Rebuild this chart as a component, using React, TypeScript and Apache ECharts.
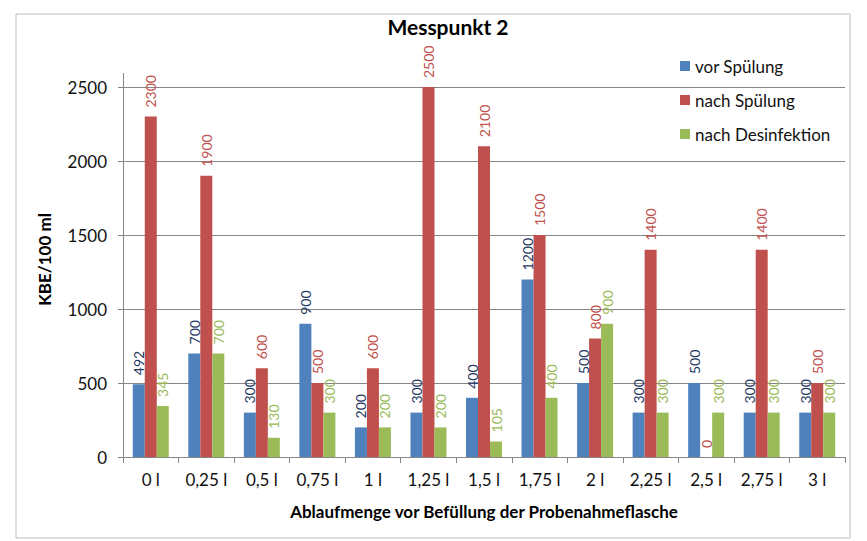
import React, { useEffect, useRef } from "react";
import * as echarts from "echarts";

const categories = ["0 l", "0,25 l", "0,5 l", "0,75 l", "1 l", "1,25 l", "1,5 l", "1,75 l", "2 l", "2,25 l", "2,5 l", "2,75 l", "3 l"];
const vorSpuelung = [492, 700, 300, 900, 200, 300, 400, 1200, 500, 300, 500, 300, 300];
const nachSpuelung = [2300, 1900, 600, 500, 600, 2500, 2100, 1500, 800, 1400, 0, 1400, 500];
const nachDesinfektion = [345, 700, 130, 300, 200, 200, 105, 400, 900, 300, 300, 300, 300];
const seriesNames = ["vor Spülung", "nach Spülung", "nach Desinfektion"];
const yTicks = { min: 0, max: 2500, interval: 500 };

const FONT = "Lato, 'Noto Sans', sans-serif";

export default function App() {
  const ref = useRef<HTMLDivElement>(null);
  useEffect(() => {
    if (!ref.current) return;
    const chart = echarts.init(ref.current, undefined, { renderer: "svg" });
    const mkSeries = (name: string, data: number[], color: string, labelColor: string) => ({
      name,
      type: "bar",
      data,
      barWidth: 12,
      barGap: "0%",
      itemStyle: { color },
      label: {
        show: true,
        position: "top",
        rotate: 90,
        align: "left",
        verticalAlign: "middle",
        distance: 9,
        color: labelColor,
        fontSize: 14,
        fontFamily: FONT,
      },
    });
    chart.setOption({
      animation: false,
      textStyle: { fontFamily: FONT },
      grid: { left: 123, right: 22, top: 87, bottom: 84 },
      legend: {
        orient: "vertical",
        left: 675,
        top: 51,
        itemWidth: 10,
        itemHeight: 10,
        itemGap: 14,
        icon: "rect",
        data: seriesNames,
        textStyle: { fontSize: 17, lineHeight: 20, color: "#111", fontFamily: FONT },
      },
      xAxis: {
        type: "category",
        data: categories,
        name: "Ablaufmenge vor Befüllung der Probenahmeflasche",
        nameLocation: "middle",
        nameGap: 46,
        nameTextStyle: { fontSize: 17, fontWeight: "bold", color: "#000", fontFamily: FONT },
        axisLine: { lineStyle: { color: "#868686" } },
        axisTick: { show: true, length: 6, lineStyle: { color: "#868686" } },
        axisLabel: { fontSize: 17, color: "#111", margin: 14, fontFamily: FONT },
      },
      yAxis: {
        type: "value",
        min: yTicks.min,
        max: yTicks.max,
        interval: yTicks.interval,
        name: "KBE/100 ml",
        nameLocation: "middle",
        nameGap: 70,
        nameRotate: 90,
        nameTextStyle: { fontSize: 17, fontWeight: "bold", color: "#000", fontFamily: FONT, padding: [0, 0, 0, 25] },
        axisLine: { show: true, lineStyle: { color: "#868686" } },
        axisTick: { show: true, length: 5, inside: false, lineStyle: { color: "#868686" } },
        axisLabel: { fontSize: 17, color: "#111", margin: 16, fontFamily: FONT, formatter: (v: number) => String(v) },
        splitLine: { lineStyle: { color: "#868686", width: 1 } },
      },
      graphic: [
        {
          type: "rect",
          shape: { x: 16, y: 14, width: 834, height: 524 },
          style: { fill: "none", stroke: "#bdbdbd", lineWidth: 1 },
          silent: true,
        },
        {
          type: "line",
          shape: { x1: 123.5, y1: 73, x2: 123.5, y2: 87 },
          style: { stroke: "#868686", lineWidth: 1 },
          silent: true,
        },
        {
          type: "text",
          style: {
            x: 448,
            y: 26,
            text: "Messpunkt 2",
            textAlign: "center",
            textVerticalAlign: "middle",
            fontSize: 21,
            fontWeight: "bold",
            fill: "#000",
            fontFamily: FONT,
          },
        },
      ],
      series: [
        mkSeries(seriesNames[0], vorSpuelung, "#4f81bd", "#1f3a64"),
        mkSeries(seriesNames[1], nachSpuelung, "#c0504d", "#c0504d"),
        mkSeries(seriesNames[2], nachDesinfektion, "#9bbb59", "#9bbb59"),
      ],
    });
    return () => chart.dispose();
  }, []);
  return <div ref={ref} style={{ width: 867, height: 541, position: "absolute", left: 0, top: 0 }} />;
}
